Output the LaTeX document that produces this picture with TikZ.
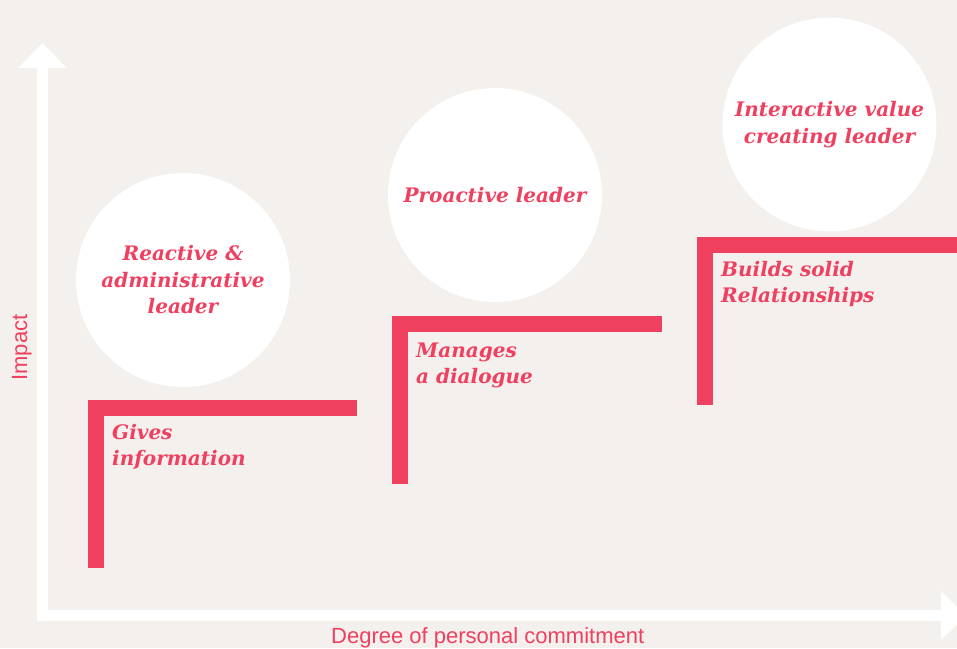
\documentclass[tikz,border=0pt]{standalone}
\usepackage{fontspec}
\setsansfont{Liberation Sans}
\newfontfamily\stepfont{DejaVu Serif}
\usetikzlibrary{arrows.meta}
\definecolor{pinkred}{RGB}{240,64,96}
\definecolor{bgcol}{RGB}{243,240,237}
\begin{document}
\begin{tikzpicture}[x=1pt,y=-1pt,
  axis/.style={white, line width=11pt, line join=miter},
  stair/.style={pinkred, line width=16pt, line join=miter},
  serifbi/.style={font=\stepfont\bfseries\itshape\fontsize{20}{26.5}\selectfont},
  bubble/.style={circle, fill=white, minimum size=214pt, inner sep=0pt, text=pinkred, align=center, serifbi},
  steptext/.style={anchor=north west, inner sep=0pt, text=pinkred, align=left, serifbi},
  axislabel/.style={text=pinkred, font=\sffamily\fontsize{22}{26}\selectfont, inner sep=0pt}]
\fill[bgcol] (0,0) rectangle (957,648);
\useasboundingbox (0,0) rectangle (957,648);
% axes
\coordinate (o) at (42.5,615.5);
\coordinate (ytip) at (42.5,43);
\coordinate (xtip) at (966,615.5);
\draw[axis, {Triangle[width=47pt,length=25pt]}-{Triangle[width=47pt,length=25pt]}] (ytip) -- (o) -- (xtip);
% bubbles
\node[bubble] (c1) at (183,280) {Reactive \&\\administrative\\leader};
\node[bubble] (c2) at (495,195) {Proactive leader};
\node[bubble] (c3) at (829.5,124.5) {Interactive value\\creating leader};
% stairs
\coordinate (s1b) at (96,568);
\coordinate (s1c) at (96,408);
\coordinate (s1e) at (357,408);
\draw[stair] (s1b) -- (s1c) -- (s1e);
\coordinate (s2b) at (400,484);
\coordinate (s2c) at (400,324);
\coordinate (s2e) at (662,324);
\draw[stair] (s2b) -- (s2c) -- (s2e);
\coordinate (s3b) at (705,405);
\coordinate (s3c) at (705,245);
\coordinate (s3e) at (962,245);
\draw[stair] (s3b) -- (s3c) -- (s3e);
% step texts
\node[steptext] (t1) at (112,424) {Gives\\information};
\node[steptext] (t2) at (416,342.4) {Manages\\a dialogue};
\node[steptext] (t3) at (721,260.8) {Builds solid\\Relationships};
% axis labels
\node[axislabel, rotate=90, anchor=base] (ylab) at (27,347.5) {Impact};
\node[axislabel, anchor=base west] (xlab) at (331,643) {Degree of personal commitment};
\end{tikzpicture}
\end{document}
